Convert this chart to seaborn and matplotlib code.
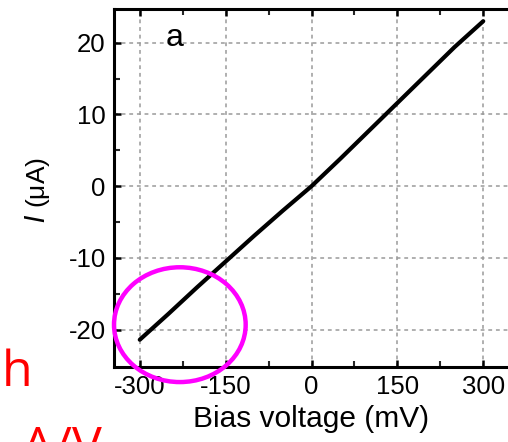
import numpy as np
import pandas as pd
import matplotlib
matplotlib.use("Agg")
import matplotlib.pyplot as plt
import seaborn as sns
from matplotlib.patches import Ellipse

# ---- data ----
bias_mv = [-300, -250, -200, -150, -100, -50, 0, 50, 100, 150, 200, 250, 300]
current_ua = [-21.4, -17.8, -14.1, -10.5, -6.9, -3.4, 0.0, 3.8, 7.7, 11.6, 15.5, 19.4, 23.0]
x_ticks = [-300, -150, 0, 150, 300]
y_ticks = [-20, -10, 0, 10, 20]
x_tick_labels = ["-300", "-150", "0", "150", "300"]
y_tick_labels = ["-20", "-10", "0", "10", "20"]
x_label = "Bias voltage (mV)"
panel_label = "a"
note_h = "h"
note_av = "A/V"

df = pd.DataFrame({"bias": bias_mv, "current": current_ua})

sns.set_theme(style="ticks")
plt.rcParams["font.family"] = ["Liberation Sans", "DejaVu Sans"]
plt.rcParams["text.color"] = "black"
plt.rcParams["axes.labelcolor"] = "black"

W, H = 508, 442
fig = plt.figure(figsize=(W / 100, H / 100), dpi=100)
fig.patch.set_facecolor("white")
ax = fig.add_axes([114 / W, 1 - 367 / H, (509 - 114) / W, (367 - 9) / H])
ax.set_facecolor("white")

sns.lineplot(data=df, x="bias", y="current", color="black", linewidth=3.0, ax=ax)

ax.set_xlim(-345, 345)
ax.set_ylim(-25.2, 24.7)
ax.set_xticks(x_ticks)
ax.set_xticklabels(x_tick_labels)
ax.set_yticks(y_ticks)
ax.set_yticklabels(y_tick_labels)
ax.set_xticks([-225, -75, 75, 225], minor=True)
ax.set_yticks([-15, -5, 5, 15], minor=True)

ax.grid(True, which="major", color="#9a9a9a", linestyle=(0, (2.5, 2.5)), linewidth=1.1)
ax.set_axisbelow(True)

for s in ["left", "bottom", "top"]:
    ax.spines[s].set_linewidth(2.2)
    ax.spines[s].set_color("black")
ax.spines["right"].set_visible(False)

ax.tick_params(axis="both", which="major", direction="in", length=5, width=1.8,
               labelsize=18.5, colors="black", pad=6)
ax.tick_params(axis="both", which="minor", direction="in", length=4, width=1.5)
ax.tick_params(axis="x", top=True, which="both")

ax.set_xlabel(x_label, fontsize=21.5, labelpad=4)
ax.set_ylabel("")
fig.text(37 / W, 1 - 190 / H, r"$I$ (μA)", rotation=90, ha="center", va="center",
         fontsize=19)

fig.text(175 / W, 1 - 38 / H, panel_label, ha="center", va="center", fontsize=23)

# magenta annotation ellipse
ell = Ellipse((-230, -19.3), width=230, height=16.0, fill=False,
              edgecolor="#ff00ff", linewidth=3.2, clip_on=False, zorder=5)
ax.add_patch(ell)

# red handwritten notes (cut off at the lower edge in the reference)
fig.text(2 / W, 1 - 348 / H, note_h, color="#ff0000", fontsize=36, ha="left", va="top",
         family=["Open Sans", "DejaVu Sans"])
fig.text(22 / W, 1 - 424 / H, note_av, color="#ff0000", fontsize=36, ha="left", va="top",
         family=["Open Sans", "DejaVu Sans"])

fig.savefig("out.png", dpi=100)
